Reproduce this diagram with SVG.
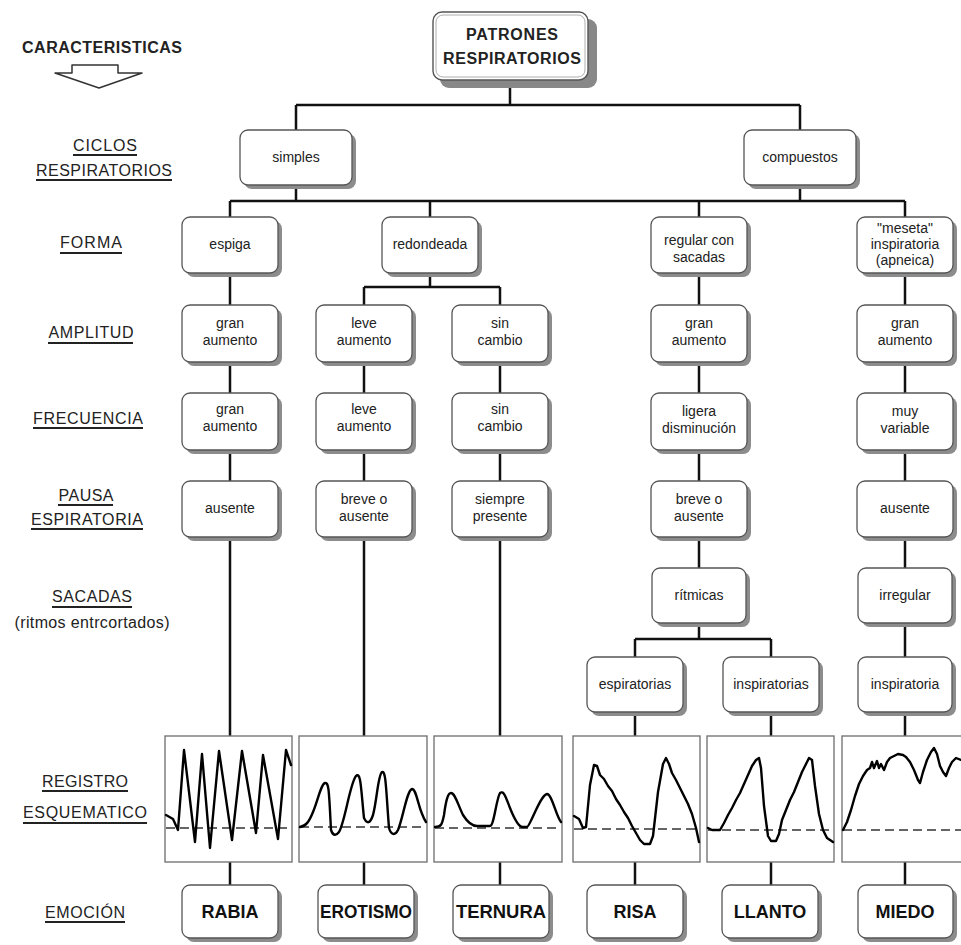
<svg xmlns="http://www.w3.org/2000/svg" width="961" height="945" viewBox="0 0 961 945">
<defs>
<style>
.sh{fill:#8c8c8c}
.bx{fill:#fff;stroke:#555;stroke-width:1.3}
.t{font-family:"Liberation Sans",Arial,sans-serif;font-size:14px;fill:#222;text-anchor:middle}
.e{font-family:"Liberation Sans",Arial,sans-serif;font-size:18px;font-weight:bold;fill:#111;text-anchor:middle}
.lb{font-family:"Liberation Sans",Arial,sans-serif;font-size:16px;fill:#222;text-anchor:middle}
.ul{stroke:#222;stroke-width:2.2}
.c{fill:none;stroke:#111;stroke-width:2.5}
.rg{fill:#fff;stroke:#777;stroke-width:1.4}
.bl{fill:none;stroke:#333;stroke-width:1.3;stroke-dasharray:9 5}
.w{fill:none;stroke:#000;stroke-width:2.4;stroke-linejoin:round;stroke-linecap:round}
</style>
</defs>
<rect width="961" height="945" fill="#fff"/>

<!-- left labels -->
<g id="labels">
<text x="102" y="53" font-family="Liberation Sans,Arial,sans-serif" font-size="16" font-weight="bold" fill="#222" text-anchor="middle" textLength="160">CARACTERISTICAS</text>
<polygon points="72,65 118,65 118,73 142,73 99,88 55,73 72,73" fill="#fff" stroke="#333" stroke-width="1.5" stroke-linejoin="round"/>
<text class="lb" x="105" y="151" textLength="64">CICLOS</text><line class="ul" x1="73" y1="155" x2="137" y2="155"/>
<text class="lb" x="104" y="176" textLength="136">RESPIRATORIOS</text><line class="ul" x1="36" y1="180" x2="172" y2="180"/>
<text class="lb" x="91" y="248" textLength="62">FORMA</text><line class="ul" x1="60" y1="253" x2="122" y2="253"/>
<text class="lb" x="91" y="338" textLength="85">AMPLITUD</text><line class="ul" x1="48" y1="343" x2="133" y2="343"/>
<text class="lb" x="88" y="424" textLength="110">FRECUENCIA</text><line class="ul" x1="33" y1="428" x2="143" y2="428"/>
<text class="lb" x="86" y="501" textLength="55">PAUSA</text><line class="ul" x1="58" y1="505" x2="113" y2="505"/>
<text class="lb" x="87" y="525" textLength="112">ESPIRATORIA</text><line class="ul" x1="31" y1="529" x2="143" y2="529"/>
<text class="lb" x="92" y="602" textLength="80">SACADAS</text><line class="ul" x1="52" y1="607" x2="132" y2="607"/>
<text x="92" y="628" font-family="Liberation Sans,Arial,sans-serif" font-size="16" fill="#222" text-anchor="middle" textLength="155">(ritmos entrcortados)</text>
<text class="lb" x="85" y="787" textLength="86">REGISTRO</text><line class="ul" x1="42" y1="791" x2="128" y2="791"/>
<text class="lb" x="85" y="818" textLength="124">ESQUEMATICO</text><line class="ul" x1="23" y1="823" x2="147" y2="823"/>
<text class="lb" x="85" y="918" textLength="80">EMOCIÓN</text><line class="ul" x1="45" y1="922" x2="125" y2="922"/>
</g>

<!-- connectors -->
<g id="connectors" class="c">
<path d="M510 80V105M296 105H800M296 105V130M800 105V130M296 185V201M800 185V201M230 201H905M230 201V217M430 201V217M699 201V217M905 201V217"/>
<path d="M430 273V287M364 287H500M364 287V305M500 287V305"/>
<path d="M230 273V305M230 362V393M230 450V481M230 537V736M230 862V885"/>
<path d="M364 362V393M364 450V481M364 537V736M364 862V885"/>
<path d="M500 362V393M500 450V481M500 537V736M500 862V885"/>
<path d="M699 273V305M699 362V393M699 450V481M699 537V568M699 623V639M635 639H771M635 639V657M771 639V657M635 712V736M771 712V736M635 862V885M771 862V885"/>
<path d="M905 273V305M905 362V393M905 450V481M905 537V568M905 623V657M905 712V736M905 862V885"/>
</g>

<!-- root -->
<g id="n-root">
<rect x="440" y="19" width="157" height="69" rx="9" fill="#888"/>
<rect x="433" y="12" width="155" height="68" rx="9" fill="#fff" stroke="#555" stroke-width="1.4"/>
<rect x="436" y="15" width="149" height="62" rx="7" fill="none" stroke="#999" stroke-width="0.8"/>
<text x="512" y="40" font-family="Liberation Sans,Arial,sans-serif" font-size="16" font-weight="bold" fill="#222" text-anchor="middle" textLength="92">PATRONES</text>
<text x="512" y="64" font-family="Liberation Sans,Arial,sans-serif" font-size="16" font-weight="bold" fill="#222" text-anchor="middle" textLength="138">RESPIRATORIOS</text>
</g>

<g id="n-simples"><rect class="sh" x="244" y="134" width="112" height="55" rx="8"/><rect class="bx" x="240" y="130" width="112" height="55" rx="8"/><text class="t" x="296" y="162">simples</text></g>
<g id="n-compuestos"><rect class="sh" x="748" y="134" width="112" height="55" rx="8"/><rect class="bx" x="744" y="130" width="112" height="55" rx="8"/><text class="t" x="800" y="162">compuestos</text></g>

<g id="n-espiga"><rect class="sh" x="186" y="221" width="96" height="56" rx="8"/><rect class="bx" x="182" y="217" width="96" height="56" rx="8"/><text class="t" x="230" y="249">espiga</text></g>
<g id="n-redondeada"><rect class="sh" x="386" y="221" width="96" height="56" rx="8"/><rect class="bx" x="382" y="217" width="96" height="56" rx="8"/><text class="t" x="430" y="249">redondeada</text></g>
<g id="n-regular"><rect class="sh" x="655" y="221" width="96" height="56" rx="8"/><rect class="bx" x="651" y="217" width="96" height="56" rx="8"/><text class="t" x="699" y="245">regular con</text><text class="t" x="699" y="262">sacadas</text></g>
<g id="n-meseta"><rect class="sh" x="861" y="221" width="96" height="56" rx="8"/><rect class="bx" x="857" y="217" width="96" height="56" rx="8"/><text class="t" x="905" y="233" font-size="13">"meseta"</text><text class="t" x="905" y="249" font-size="13">inspiratoria</text><text class="t" x="905" y="265" font-size="13">(apneica)</text></g>

<g id="n-amp1"><rect class="sh" x="186" y="309" width="96" height="57" rx="8"/><rect class="bx" x="182" y="305" width="96" height="57" rx="8"/><text class="t" x="230" y="328">gran</text><text class="t" x="230" y="345">aumento</text></g>
<g id="n-amp2"><rect class="sh" x="320" y="309" width="96" height="57" rx="8"/><rect class="bx" x="316" y="305" width="96" height="57" rx="8"/><text class="t" x="364" y="328">leve</text><text class="t" x="364" y="345">aumento</text></g>
<g id="n-amp3"><rect class="sh" x="456" y="309" width="96" height="57" rx="8"/><rect class="bx" x="452" y="305" width="96" height="57" rx="8"/><text class="t" x="500" y="328">sin</text><text class="t" x="500" y="345">cambio</text></g>
<g id="n-amp4"><rect class="sh" x="655" y="309" width="96" height="57" rx="8"/><rect class="bx" x="651" y="305" width="96" height="57" rx="8"/><text class="t" x="699" y="328">gran</text><text class="t" x="699" y="345">aumento</text></g>
<g id="n-amp6"><rect class="sh" x="861" y="309" width="96" height="57" rx="8"/><rect class="bx" x="857" y="305" width="96" height="57" rx="8"/><text class="t" x="905" y="328">gran</text><text class="t" x="905" y="345">aumento</text></g>

<g id="n-fre1"><rect class="sh" x="186" y="397" width="96" height="57" rx="8"/><rect class="bx" x="182" y="393" width="96" height="57" rx="8"/><text class="t" x="230" y="414">gran</text><text class="t" x="230" y="431">aumento</text></g>
<g id="n-fre2"><rect class="sh" x="320" y="397" width="96" height="57" rx="8"/><rect class="bx" x="316" y="393" width="96" height="57" rx="8"/><text class="t" x="364" y="414">leve</text><text class="t" x="364" y="431">aumento</text></g>
<g id="n-fre3"><rect class="sh" x="456" y="397" width="96" height="57" rx="8"/><rect class="bx" x="452" y="393" width="96" height="57" rx="8"/><text class="t" x="500" y="414">sin</text><text class="t" x="500" y="431">cambio</text></g>
<g id="n-fre4"><rect class="sh" x="655" y="397" width="96" height="57" rx="8"/><rect class="bx" x="651" y="393" width="96" height="57" rx="8"/><text class="t" x="699" y="416">ligera</text><text class="t" x="699" y="433">disminución</text></g>
<g id="n-fre6"><rect class="sh" x="861" y="397" width="96" height="57" rx="8"/><rect class="bx" x="857" y="393" width="96" height="57" rx="8"/><text class="t" x="905" y="416">muy</text><text class="t" x="905" y="433">variable</text></g>

<g id="n-pau1"><rect class="sh" x="186" y="485" width="96" height="56" rx="8"/><rect class="bx" x="182" y="481" width="96" height="56" rx="8"/><text class="t" x="230" y="513">ausente</text></g>
<g id="n-pau2"><rect class="sh" x="320" y="485" width="96" height="56" rx="8"/><rect class="bx" x="316" y="481" width="96" height="56" rx="8"/><text class="t" x="364" y="504">breve o</text><text class="t" x="364" y="521">ausente</text></g>
<g id="n-pau3"><rect class="sh" x="456" y="485" width="96" height="56" rx="8"/><rect class="bx" x="452" y="481" width="96" height="56" rx="8"/><text class="t" x="500" y="504">siempre</text><text class="t" x="500" y="521">presente</text></g>
<g id="n-pau4"><rect class="sh" x="655" y="485" width="96" height="56" rx="8"/><rect class="bx" x="651" y="481" width="96" height="56" rx="8"/><text class="t" x="699" y="504">breve o</text><text class="t" x="699" y="521">ausente</text></g>
<g id="n-pau6"><rect class="sh" x="861" y="485" width="96" height="56" rx="8"/><rect class="bx" x="857" y="481" width="96" height="56" rx="8"/><text class="t" x="905" y="513">ausente</text></g>

<g id="n-ritmicas"><rect class="sh" x="656" y="572" width="94" height="55" rx="8"/><rect class="bx" x="652" y="568" width="94" height="55" rx="8"/><text class="t" x="699" y="600">rítmicas</text></g>
<g id="n-irregular"><rect class="sh" x="862" y="572" width="94" height="55" rx="8"/><rect class="bx" x="858" y="568" width="94" height="55" rx="8"/><text class="t" x="905" y="600">irregular</text></g>
<g id="n-espiratorias"><rect class="sh" x="591" y="661" width="96" height="55" rx="8"/><rect class="bx" x="587" y="657" width="96" height="55" rx="8"/><text class="t" x="635" y="689">espiratorias</text></g>
<g id="n-inspiratorias"><rect class="sh" x="727" y="661" width="96" height="55" rx="8"/><rect class="bx" x="723" y="657" width="96" height="55" rx="8"/><text class="t" x="771" y="689">inspiratorias</text></g>
<g id="n-inspiratoria"><rect class="sh" x="862" y="661" width="94" height="55" rx="8"/><rect class="bx" x="858" y="657" width="94" height="55" rx="8"/><text class="t" x="905" y="689">inspiratoria</text></g>

<!-- registro boxes -->
<g id="r-rabia"><rect class="rg" x="165" y="736" width="127" height="126"/><line class="bl" x1="166" y1="828" x2="291" y2="828"/>
<polyline class="w" points="166,815 173,819 178,830 184,750 195,842 202,754 210,848 219,751 232,840 242,751 256,833 263,755 278,839 286,750 291,765"/></g>
<g id="r-erotismo"><rect class="rg" x="299" y="736" width="128" height="126"/><line class="bl" x1="300" y1="827" x2="426" y2="827"/>
<path class="w" d="M300 827C306 826 309 822 313 812C318 800 321 784 325 783C329 782 329 792 331 830C333 836 336 836 339 832C345 822 350 783 356 776C361 771 361 790 364 818C367 824 370 824 373 815C377 800 378 775 382 772C386 770 386 790 389 828C391 835 395 836 398 830C403 818 407 790 412 789C417 789 418 810 426 822"/></g>
<g id="r-ternura"><rect class="rg" x="434" y="736" width="128" height="126"/><line class="bl" x1="435" y1="828" x2="561" y2="828"/>
<path class="w" d="M435 827C441 827 442 825 444 815C446 800 448 793 451 793C455 793 458 805 463 815C468 823 472 826 477 826L490 826C494 826 496 800 500 793C504 790 506 798 510 808C514 818 518 826 522 827L527 827C530 827 540 795 547 794C552 794 556 816 561 822"/></g>
<g id="r-risa"><rect class="rg" x="573" y="736" width="127" height="126"/><line class="bl" x1="574" y1="829" x2="699" y2="829"/>
<polyline class="w" points="574,816 579,819 583,828 586,827 590,785 594,765 597,766 600,775 604,779 608,786 612,791 616,799 620,805 624,812 628,818 632,826 636,833 640,840 644,844 650,844 653,836 658,792 663,764 666,758 669,764 672,773 676,780 680,788 684,796 688,804 692,814 696,828 699,842"/></g>
<g id="r-llanto"><rect class="rg" x="707" y="736" width="127" height="126"/><line class="bl" x1="708" y1="830" x2="833" y2="830"/>
<polyline class="w" points="708,828 712,830 720,830 724,823 728,815 732,808 736,800 740,793 744,784 748,775 752,766 756,760 759,758 761,768 764,806 768,836 771,841 776,841 779,834 782,820 786,810 790,800 794,792 798,782 802,772 806,764 809,758 812,760 815,786 819,814 823,830 827,838 833,842"/></g>
<g id="r-miedo"><rect class="rg" x="842" y="736" width="135" height="126"/><line class="bl" x1="843" y1="830" x2="961" y2="830"/>
<polyline class="w" points="843,830 847,822 851,810 855,796 859,784 863,776 867,770 870,768 872,762 874,768 877,761 879,768 881,764 884,770 887,762 890,758 894,756 898,754 903,755 906,757 910,762 914,770 918,780 920,783 923,772 927,760 931,752 934,748 937,754 940,766 943,772 946,776 949,768 952,762 956,758 961,760"/></g>

<!-- emotions -->
<g id="e-rabia"><rect class="sh" x="186" y="889" width="96" height="53" rx="8"/><rect class="bx" x="182" y="885" width="96" height="53" rx="8"/><text class="e" x="230" y="918">RABIA</text></g>
<g id="e-erotismo"><rect class="sh" x="322" y="889" width="96" height="53" rx="8"/><rect class="bx" x="318" y="885" width="96" height="53" rx="8"/><text class="e" x="366" y="918" textLength="92" lengthAdjust="spacingAndGlyphs">EROTISMO</text></g>
<g id="e-ternura"><rect class="sh" x="457" y="889" width="96" height="53" rx="8"/><rect class="bx" x="453" y="885" width="96" height="53" rx="8"/><text class="e" x="501" y="918" textLength="90" lengthAdjust="spacingAndGlyphs">TERNURA</text></g>
<g id="e-risa"><rect class="sh" x="591" y="889" width="96" height="53" rx="8"/><rect class="bx" x="587" y="885" width="96" height="53" rx="8"/><text class="e" x="635" y="918">RISA</text></g>
<g id="e-llanto"><rect class="sh" x="726" y="889" width="96" height="53" rx="8"/><rect class="bx" x="722" y="885" width="96" height="53" rx="8"/><text class="e" x="770" y="918">LLANTO</text></g>
<g id="e-miedo"><rect class="sh" x="862" y="889" width="95" height="53" rx="8"/><rect class="bx" x="858" y="885" width="95" height="53" rx="8"/><text class="e" x="905" y="918">MIEDO</text></g>
</svg>
